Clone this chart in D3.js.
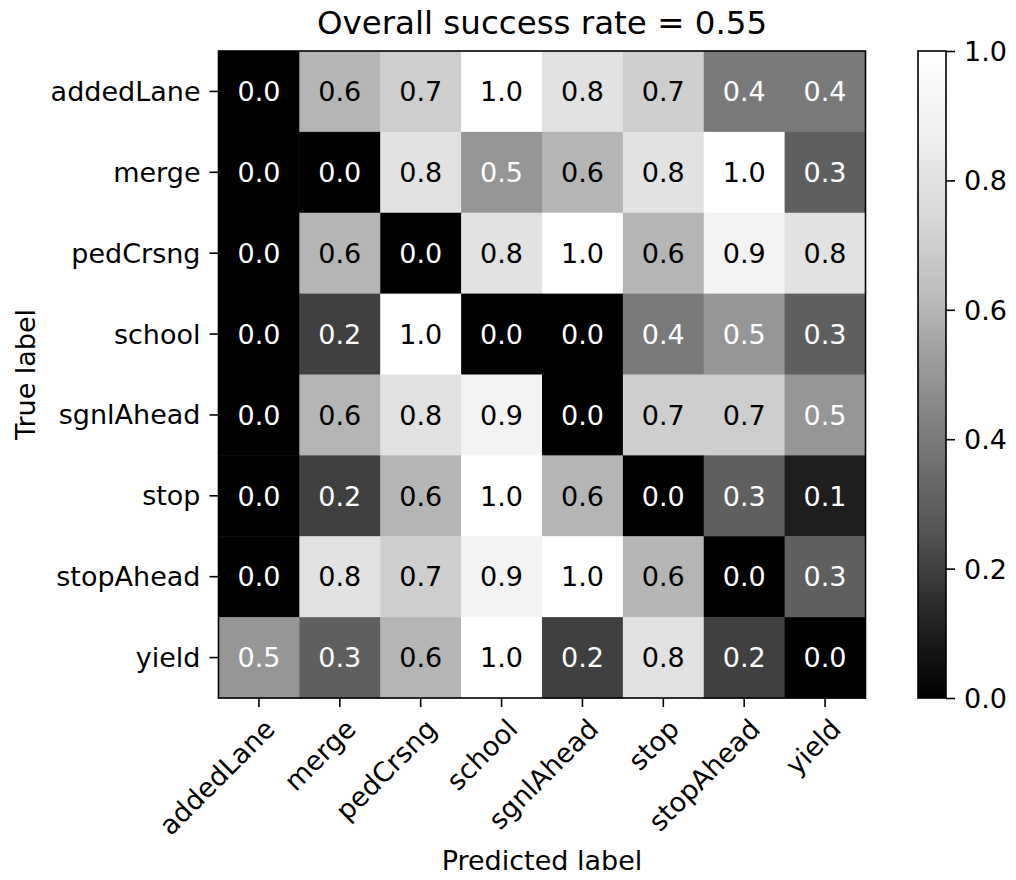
<!DOCTYPE html>
<html>
<head>
<meta charset="utf-8">
<script src="https://cdn.jsdelivr.net/npm/d3@7"></script>
<style>
  html, body { margin: 0; padding: 0; background: #fff; }
  svg { display: block; }
  text { font-family: "DejaVu Sans", sans-serif; fill: #000; }
</style>
</head>
<body>
<svg id="chart" width="1016" height="880"></svg>
<script>
// Sign classes (rows = true label, columns = predicted label)
const classes = ["addedLane", "merge", "pedCrsng", "school", "sgnlAhead", "stop", "stopAhead", "yield"];

// Per-class rates, one array per true label
const addedLane = [0.0, 0.6, 0.7, 1.0, 0.8, 0.7, 0.4, 0.4];
const merge     = [0.0, 0.0, 0.8, 0.5, 0.6, 0.8, 1.0, 0.3];
const pedCrsng  = [0.0, 0.6, 0.0, 0.8, 1.0, 0.6, 0.9, 0.8];
const school    = [0.0, 0.2, 1.0, 0.0, 0.0, 0.4, 0.5, 0.3];
const sgnlAhead = [0.0, 0.6, 0.8, 0.9, 0.0, 0.7, 0.7, 0.5];
const stop      = [0.0, 0.2, 0.6, 1.0, 0.6, 0.0, 0.3, 0.1];
const stopAhead = [0.0, 0.8, 0.7, 0.9, 1.0, 0.6, 0.0, 0.3];
const yieldRow  = [0.5, 0.3, 0.6, 1.0, 0.2, 0.8, 0.2, 0.0];
const matrix = [addedLane, merge, pedCrsng, school, sgnlAhead, stop, stopAhead, yieldRow];

const overallRate = 0.55;
const colorbarTicks = [0.0, 0.2, 0.4, 0.6, 0.8, 1.0];

// Reversed ColorBrewer "Greys" ramp, linearly interpolated between its stops
const greys = ["#ffffff", "#f0f0f0", "#d9d9d9", "#bdbdbd", "#969696", "#737373", "#525252", "#252525", "#000000"].reverse();
const color = d3.scaleLinear()
  .domain(greys.map((_, i) => i / (greys.length - 1)))
  .range(greys)
  .interpolate(d3.interpolateRgb)
  .clamp(true);

const svg = d3.select("#chart");
const plot = { left: 218.5, top: 51, size: 647 };
const fontPx = 27;

const x = d3.scaleBand().domain(classes).range([plot.left, plot.left + plot.size]);
const y = d3.scaleBand().domain(classes).range([plot.top, plot.top + plot.size]);

// Heatmap cells
const cells = [];
matrix.forEach((row, i) => row.forEach((v, j) => cells.push({ t: classes[i], p: classes[j], v })));

svg.append("g").selectAll("rect").data(cells).join("rect")
  .attr("x", d => x(d.p))
  .attr("y", d => y(d.t))
  .attr("width", x.bandwidth() + 0.5)
  .attr("height", y.bandwidth() + 0.5)
  .attr("fill", d => color(d.v));

// Cell annotations
svg.append("g").selectAll("text").data(cells).join("text")
  .attr("x", d => x(d.p) + x.bandwidth() / 2)
  .attr("y", d => y(d.t) + y.bandwidth() / 2 + fontPx * 0.36)
  .attr("text-anchor", "middle")
  .style("font-size", fontPx + "px")
  .style("fill", d => d.v <= 0.5 ? "#fff" : "#000")
  .text(d => d3.format(".1f")(d.v));

// Frame
svg.append("rect")
  .attr("x", plot.left).attr("y", plot.top)
  .attr("width", plot.size).attr("height", plot.size)
  .attr("fill", "none").attr("stroke", "#000").attr("stroke-width", 1.6);

// Y axis
const yAxis = svg.append("g").attr("transform", `translate(${plot.left},0)`)
  .call(d3.axisLeft(y).tickSize(9).tickPadding(9));
yAxis.select(".domain").remove();
yAxis.selectAll("line").attr("stroke", "#000").attr("stroke-width", 1.6);
yAxis.selectAll("text").style("font-size", fontPx + "px").attr("dy", "0.35em")
  .style("font-family", "'DejaVu Sans', sans-serif");

// X axis with rotated labels anchored at their top-right corner
const xAxis = svg.append("g").attr("transform", `translate(0,${plot.top + plot.size})`)
  .call(d3.axisBottom(x).tickSize(9));
xAxis.select(".domain").remove();
xAxis.selectAll("line").attr("stroke", "#000").attr("stroke-width", 1.6);
xAxis.selectAll("text")
  .style("font-size", fontPx + "px")
  .style("font-family", "'DejaVu Sans', sans-serif")
  .attr("text-anchor", "end")
  .attr("dominant-baseline", "text-before-edge")
  .attr("y", 0).attr("dy", 0)
  .attr("transform", "translate(0,15) rotate(-45)");

// Axis titles and chart title
svg.append("text")
  .attr("x", plot.left + plot.size / 2).attr("y", 870)
  .attr("text-anchor", "middle").style("font-size", fontPx + "px")
  .text("Predicted label");

svg.append("text")
  .attr("transform", `translate(35,${plot.top + plot.size / 2}) rotate(-90)`)
  .attr("text-anchor", "middle").style("font-size", fontPx + "px")
  .text("True label");

svg.append("text")
  .attr("x", plot.left + plot.size / 2).attr("y", 34)
  .attr("text-anchor", "middle").style("font-size", "32.5px")
  .text(`Overall success rate = ${d3.format(".2f")(overallRate)}`);

// Colorbar
const cb = { left: 918, width: 28 };
const cScale = d3.scaleLinear().domain([0, 1]).range([plot.top + plot.size, plot.top]);

const grad = svg.append("defs").append("linearGradient")
  .attr("id", "cbGrad").attr("x1", 0).attr("y1", 1).attr("x2", 0).attr("y2", 0);
grad.selectAll("stop").data(color.domain()).join("stop")
  .attr("offset", d => d)
  .attr("stop-color", d => color(d));

svg.append("rect")
  .attr("x", cb.left).attr("y", plot.top)
  .attr("width", cb.width).attr("height", plot.size)
  .attr("fill", "url(#cbGrad)")
  .attr("stroke", "#000").attr("stroke-width", 1.6);

const cAxis = svg.append("g").attr("transform", `translate(${cb.left + cb.width},0)`)
  .call(d3.axisRight(cScale).tickValues(colorbarTicks).tickFormat(d3.format(".1f")).tickSize(9).tickPadding(9));
cAxis.select(".domain").remove();
cAxis.selectAll("line").attr("stroke", "#000").attr("stroke-width", 1.6);
cAxis.selectAll("text").style("font-size", fontPx + "px").attr("dy", "0.35em")
  .style("font-family", "'DejaVu Sans', sans-serif");
</script>
</body>
</html>
